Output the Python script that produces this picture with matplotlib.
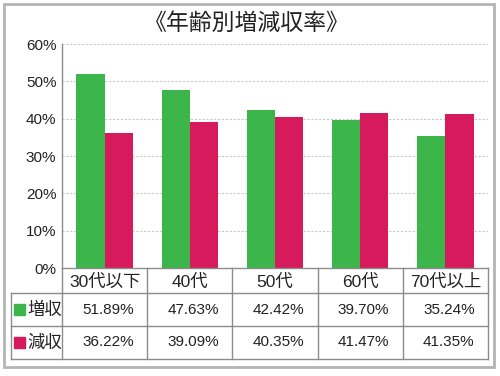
import matplotlib
matplotlib.use("Agg")
import matplotlib.pyplot as plt
from matplotlib.patches import Rectangle
from matplotlib.lines import Line2D

plt.rcParams['font.family'] = ['Liberation Sans', 'Noto Sans CJK JP']

title = "《年齢別増減収率》"
categories = ["30代以下", "40代", "50代", "60代", "70代以上"]
series_names = ["増収", "減収"]
increase = [51.89, 47.63, 42.42, 39.70, 35.24]
decrease = [36.22, 39.09, 40.35, 41.47, 41.35]
yticks = [0, 10, 20, 30, 40, 50, 60]

green = "#3cb54b"
red = "#d61a5b"
grid_c = "#c8c8c8"
line_c = "#8c8c8c"
W, H = 500, 376

fig = plt.figure(figsize=(W / 100, H / 100), dpi=100)
fig.patch.set_facecolor("white")

def fbox(x0, y0, x1, y1):
    return [x0 / W, 1 - y1 / H, (x1 - x0) / W, (y1 - y0) / H]

# outer border
fig.add_artist(Rectangle((4 / W, 1 - 367 / H), 490 / W, 363 / H,
                         transform=fig.transFigure, fill=False,
                         edgecolor="#b4b4b4", linewidth=2))

fig.text(247 / W, 1 - 23 / H, title, ha="center", va="center", fontsize=16.5,
         color="#222222")

ax = fig.add_axes(fbox(62, 44, 488, 268))
n = len(categories)
xs = list(range(n))
bw = 0.33
ax.bar([x - bw / 2 for x in xs], increase, width=bw, color=green, zorder=3)
ax.bar([x + bw / 2 for x in xs], decrease, width=bw, color=red, zorder=3)
ax.set_xlim(-0.5, n - 0.5)
ax.set_ylim(0, 60)
ax.set_yticks(yticks)
ax.set_yticklabels([f"{t}%" for t in yticks], fontsize=11, color="#222222")
ax.set_xticks([])
for t in yticks[1:]:
    ax.axhline(t, color=grid_c, linestyle=(0, (2, 1.5)), linewidth=0.8, zorder=1)
for s in ["top", "right", "bottom"]:
    ax.spines[s].set_visible(False)
ax.spines["left"].set_color(line_c)
ax.spines["left"].set_linewidth(1)
ax.tick_params(axis="y", length=0, pad=4)

# table
tab = fig.add_axes(fbox(11, 268, 488, 359))
left_x = -0.5 - (62 - 11) / 85.2
tab.set_xlim(left_x, n - 0.5)
tab.set_ylim(91, 0)
tab.axis("off")
rows_y = [0, 25, 58, 91]
lk = dict(color=line_c, linewidth=1, clip_on=False)
tab.add_line(Line2D([-0.5, n - 0.5], [0, 0], **lk))
for y in rows_y[1:]:
    tab.add_line(Line2D([left_x, n - 0.5], [y, y], **lk))
tab.add_line(Line2D([left_x, left_x], [25, 91], **lk))
for i in range(n + 1):
    tab.add_line(Line2D([i - 0.5, i - 0.5], [0, 91], **lk))

fs = 11
for i, c in enumerate(categories):
    tab.text(i, 13.5, c, ha="center", va="center", fontsize=12.5, color="#222222")
for r, (name, vals, col) in enumerate(zip(series_names, [increase, decrease], [green, red])):
    yc = (rows_y[r + 1] + rows_y[r + 2]) / 2
    tab.add_patch(Rectangle((left_x + 0.04, yc - 5.5), 0.13, 11, color=col, clip_on=False))
    tab.text(left_x + 0.19, yc, name, ha="left", va="center", fontsize=12.5, color="#222222")
    for i, v in enumerate(vals):
        tab.text(i + 0.04, yc, f"{v:.2f}%", ha="center", va="center", fontsize=fs,
                 color="#222222")

fig.savefig("out.png", dpi=100)
